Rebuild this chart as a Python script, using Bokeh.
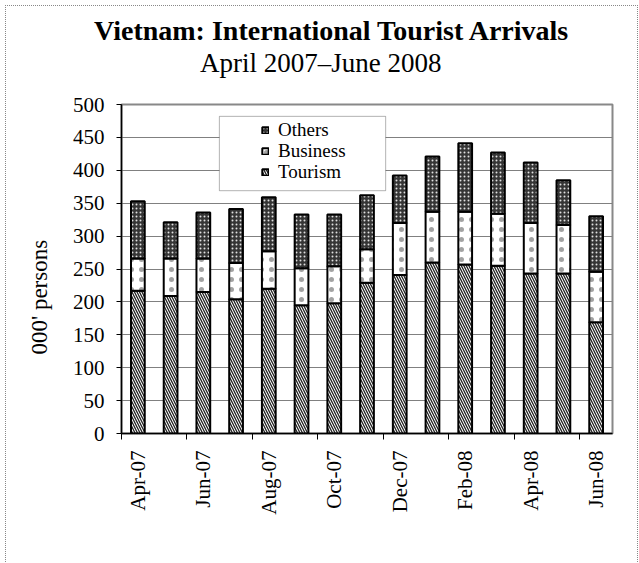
from math import pi
from bokeh.plotting import figure
from bokeh.layouts import column
from bokeh.models import (ColumnDataSource, Range1d, FixedTicker, Legend, LegendItem,
                          Title, BoxAnnotation, Div)
from bokeh.embed import file_html
from bokeh.resources import INLINE

# ---- data (thousand persons) ----
months = ["Apr-07", "May-07", "Jun-07", "Jul-07", "Aug-07", "Sep-07", "Oct-07", "Nov-07",
          "Dec-07", "Jan-08", "Feb-08", "Mar-08", "Apr-08", "May-08", "Jun-08"]
tourism = [217, 209, 215, 204, 220, 195, 198, 229, 241, 260, 257, 255, 243, 243, 169]
business = [49, 57, 51, 55, 57, 56, 56, 51, 79, 77, 80, 79, 77, 74, 77]
others = [87, 55, 70, 82, 82, 82, 79, 82, 72, 84, 104, 93, 92, 68, 84]
series = ["Tourism", "Business", "Others"]
y_ticks = [0, 50, 100, 150, 200, 250, 300, 350, 400, 450, 500]
title_text = "Vietnam: International Tourist Arrivals"
subtitle_text = "April 2007\u2013June 2008"

FONT = "Liberation Serif"
n = len(months)
xs = list(range(n))
source = ColumnDataSource(dict(x=xs, Tourism=tourism, Business=business, Others=others))

header = Div(text=(
    '<div style="padding-top:9px; font-family:\'Liberation Serif\'; color:black; '
    'white-space:nowrap; margin:0;">'
    '<div style="font-weight:bold; font-size:28px; line-height:32px; padding-left:88px;">'
    + title_text + '</div>'
    '<div style="font-size:27px; line-height:32px; padding-left:194px;">'
    + subtitle_text + '</div></div>'),
    width=631, height=88, margin=0)

p = figure(width=631, height=468, title=None,
           x_range=Range1d(-0.5, n - 0.5), y_range=Range1d(y_ticks[0], y_ticks[-1]),
           output_backend="svg", toolbar_location=None,
           min_border_left=115, min_border_right=25, min_border_top=10, min_border_bottom=129,
           background_fill_color="white", border_fill_color="white",
           outline_line_color="#888888", outline_line_width=2, margin=0)

renderers = p.vbar_stack(series, x="x", width=0.42, source=source,
                         fill_color=["white", "white", "#353535"],
                         line_color="black", line_width=2,
                         hatch_pattern=["left_diagonal_line", "dot", "dot"],
                         hatch_color=["#222222", "#555555", "#e0e0e0"],
                         hatch_alpha=[1.0, 0.55, 1.0],
                         hatch_scale=[5, 10, 4], hatch_weight=[1.3, 1.0, 1.5])

# axes
p.xaxis.ticker = FixedTicker(ticks=xs[::2], minor_ticks=[i - 0.5 for i in xs[::2]])
p.xaxis.major_label_overrides = {i: months[i] for i in xs[::2]}
p.xaxis.major_tick_line_color = None
p.xaxis.major_tick_out = 0
p.xaxis.major_tick_in = 0
p.xaxis.minor_tick_line_color = "black"
p.xaxis.minor_tick_out = 6
p.xaxis.minor_tick_in = 0
p.xaxis.major_label_orientation = pi / 2
p.xaxis.major_label_standoff = 11

p.yaxis.ticker = FixedTicker(ticks=y_ticks, minor_ticks=[])
p.yaxis.major_tick_out = 5
p.yaxis.major_tick_in = 0
p.yaxis.major_label_standoff = 12

for ax in (p.xaxis[0], p.yaxis[0]):
    ax.axis_line_color = "black"
    ax.axis_line_width = 1.5
    ax.major_label_text_font = FONT
    ax.major_label_text_font_size = "21px"
    ax.major_label_text_color = "black"

p.add_layout(Title(text="000' persons", text_font=FONT, text_font_size="23px",
                   text_font_style="normal", align="left", offset=79, standoff=35,
                   text_color="black"), "left")

p.xgrid.visible = False
p.ygrid.grid_line_color = "#808080"
p.ygrid.grid_line_width = 1

# legend box and legend entries (one Legend per entry for Excel-like tight spacing)
box = BoxAnnotation(left=2.49, right=7.57, bottom=369, top=482,
                    fill_color="white", fill_alpha=1.0, line_color="black", line_width=1)
p.add_layout(box)

entries = [("Others", renderers[2], 292), ("Business", renderers[1], 271),
           ("Tourism", renderers[0], 250)]
for label, rend, ypos in entries:
    p.add_layout(Legend(items=[LegendItem(label=label, renderers=[rend])],
                        location=(140, ypos), padding=0, spacing=0, margin=0,
                        glyph_width=8, glyph_height=8, label_height=19, label_standoff=9,
                        label_text_font=FONT, label_text_font_size="19px",
                        label_text_color="black",
                        border_line_color=None, background_fill_alpha=0))

layout = column(header, p, spacing=0,
                styles={"margin-left": "5px", "margin-top": "5px",
                        "border-left": "1px dotted #888", "border-top": "1px dotted #888",
                        "border-right": "1px dotted #888"})

open("out.html", "w").write(file_html(layout, INLINE))
